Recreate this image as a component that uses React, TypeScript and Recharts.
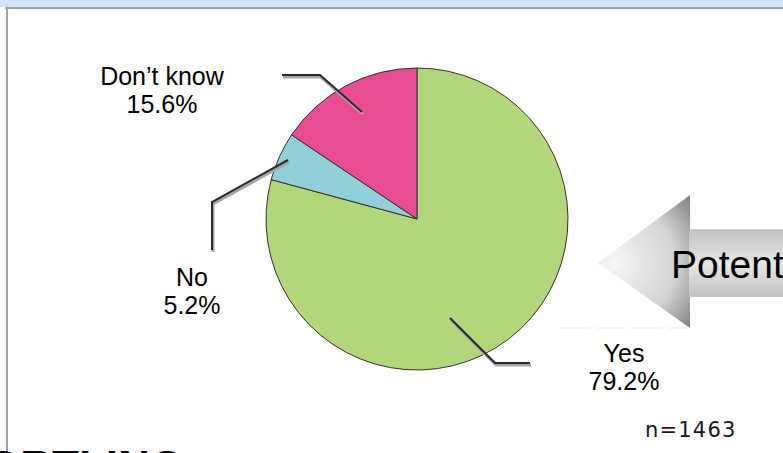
import { Cell, Pie, PieChart } from "recharts";

const categories = ["Yes", "No", "Don\u2019t know"];
const shares = [79.2, 5.2, 15.6];
const sampleSize = 1463;
const calloutText = "Potential";

const colors = ["#b4d67a", "#93cfd9", "#e94c91"];

const data = categories.map((name, i) => ({ name, value: shares[i] }));

// label placement relative to the pie centre: leader polyline and text block
const callouts = [
  { line: [[33, 99], [78, 144], [113, 144]], tx: 207, ty: 143 },
  { line: [[-129, -59], [-205, -17], [-205, 31]], tx: -225, ty: 67 },
  { line: [[-55, -107], [-97, -144], [-135, -144]], tx: -255, ty: -134 },
];

const W = 783;
const H = 453;

function SliceLabel(props: any) {
  const { cx, cy, index, name, value } = props;
  const c = callouts[index];
  if (!c) return null;
  const pts = c.line.map(([dx, dy]) => `${cx + dx},${cy + dy}`).join(" ");
  const shadow = c.line.map(([dx, dy]) => `${cx + dx + 1},${cy + dy + 2}`).join(" ");
  return (
    <g>
      <polyline points={shadow} fill="none" stroke="#a8a8a8" strokeWidth={3} />
      <polyline points={pts} fill="none" stroke="#2a2a2a" strokeWidth={2} />
      <text
        x={cx + c.tx}
        y={cy + c.ty}
        textAnchor="middle"
        fill="#000"
        fontSize={25}
        fontFamily="'Liberation Sans', Arial, sans-serif"
      >
        <tspan x={cx + c.tx}>{name}</tspan>
        <tspan x={cx + c.tx} dy={28}>
          {Number(value).toFixed(1)}%
        </tspan>
      </text>
    </g>
  );
}

function Decor() {
  return (
    <svg width={W} height={H} style={{ position: "absolute", left: 0, top: 0 }}>
      <defs>
        <radialGradient id="head" cx="615" cy="263" r="110" gradientUnits="userSpaceOnUse">
          <stop offset="0" stopColor="#f6f6f6" />
          <stop offset="0.55" stopColor="#d4d4d4" />
          <stop offset="1" stopColor="#6a6a6a" />
        </radialGradient>
        <linearGradient id="shaft" x1="0" y1="0" x2="0" y2="1">
          <stop offset="0" stopColor="#c4c4c4" />
          <stop offset="0.5" stopColor="#e6e6e6" />
          <stop offset="1" stopColor="#c2c2c2" />
        </linearGradient>
      </defs>
      <rect x={0} y={0} width={W} height={7} fill="#cfe5fb" />
      <line x1={5} y1={8} x2={W} y2={8} stroke="#a2a2a2" strokeWidth={2} />
      <line x1={7} y1={8} x2={7} y2={H} stroke="#a2a2a2" strokeWidth={2} />
      <polygon points="598,263 690,195 690,328" fill="url(#head)" />
      <rect x={689} y={230} width={W - 689} height={67} fill="url(#shaft)" />
      <line x1={689} y1={230} x2={W} y2={230} stroke="#ababab" strokeWidth={1} />
      <line x1={560} y1={328} x2={688} y2={328} stroke="#ececec" strokeWidth={1} strokeDasharray="30 6" />
      <text x={671} y={278} fontSize={39} fill="#000" fontFamily="'Liberation Sans', Arial, sans-serif">
        {calloutText}
      </text>
      <text x={645} y={437} fontSize={21} fill="#1a1a1a" letterSpacing={1.2} fontFamily="'DejaVu Sans', sans-serif">
        n={sampleSize}
      </text>
      <text x={-14} y={482} fontSize={44} fontWeight="bold" fill="#000" fontFamily="'Liberation Sans', Arial, sans-serif">
        ORTLING
      </text>
    </svg>
  );
}

export default function App() {
  return (
    <div
      style={{
        position: "absolute",
        left: 0,
        top: 0,
        width: W,
        height: H,
        overflow: "hidden",
        background: "#fff",
      }}
    >
      <Decor />
      <div style={{ position: "absolute", left: 0, top: 0 }}>
        <PieChart width={W} height={H} margin={{ top: 0, right: 0, bottom: 0, left: 0 }}>
          <Pie
            data={data}
            dataKey="value"
            nameKey="name"
            cx={417}
            cy={219}
            outerRadius={151}
            startAngle={90}
            endAngle={-270}
            stroke="#333"
            strokeWidth={1}
            label={SliceLabel}
            labelLine={false}
            isAnimationActive={false}
          >
            {data.map((d, i) => (
              <Cell key={d.name} fill={colors[i]} />
            ))}
          </Pie>
        </PieChart>
      </div>
    </div>
  );
}
